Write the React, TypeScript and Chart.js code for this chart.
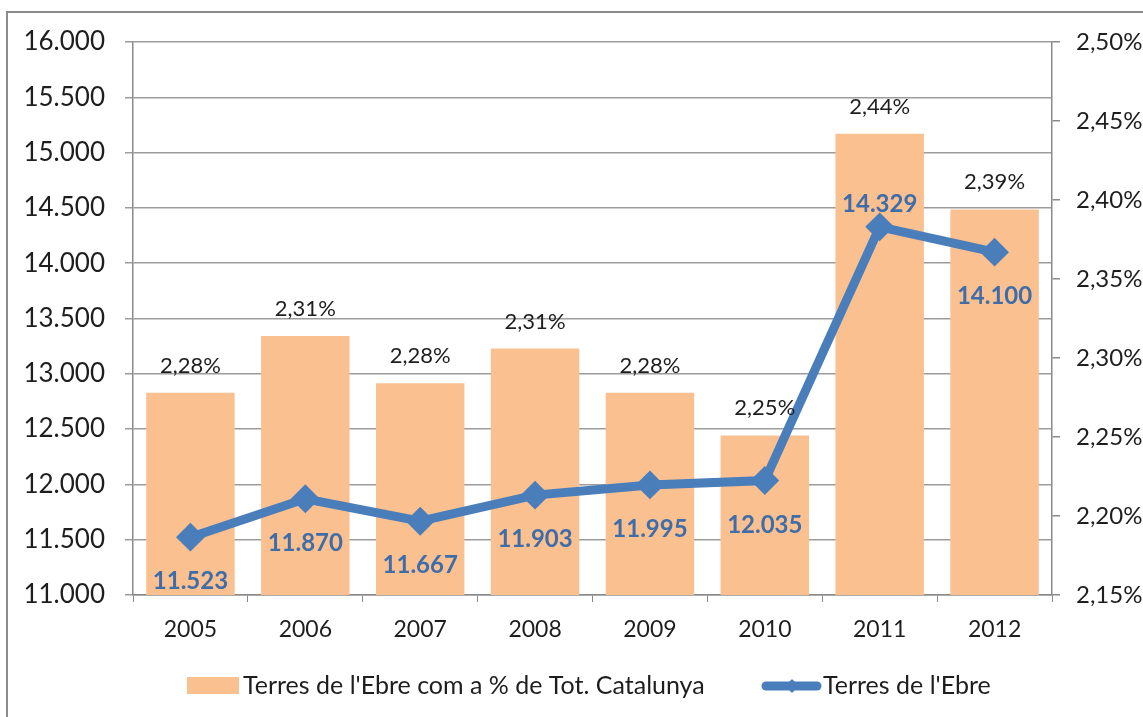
import React, { useEffect, useRef } from 'react';
import { Chart, registerables } from 'chart.js';

Chart.register(...registerables);

// ---- data ----
const years = ['2005', '2006', '2007', '2008', '2009', '2010', '2011', '2012'];
const sharePct = [2.278, 2.314, 2.284, 2.306, 2.278, 2.251, 2.442, 2.394];
const ebreValues = [11523, 11870, 11667, 11903, 11995, 12035, 14329, 14100];
const lineLabelSide = ['below', 'below', 'below', 'below', 'below', 'below', 'above', 'below'];
const barSeriesName = "Terres de l'Ebre com a % de Tot. Catalunya";
const lineSeriesName = "Terres de l'Ebre";
const leftMin = 11000;
const leftMax = 16000;
const leftStep = 500;
const rightMin = 2.15;
const rightMax = 2.5;
const rightStep = 0.05;

// ---- style ----
const FONT = 'Lato, "Open Sans", sans-serif';
const BAR_COLOR = '#FAC090';
const LINE_COLOR = '#4A7EBB';
const LABEL_BLUE = '#3E6DA9';
const TEXT = '#1e1e1e';
const AXIS = '#8a8a8a';
const GRID = '#9c9c9c';

const fmtThousands = (v: number) =>
  Math.round(v).toString().replace(/\B(?=(\d{3})+(?!\d))/g, '.');
const fmtPct = (v: number) => v.toFixed(2).replace('.', ',') + '%';

const labelsPlugin = {
  id: 'valueLabels',
  afterDatasetsDraw(chart: any) {
    const ctx = chart.ctx;
    ctx.save();
    // bar labels
    const barMeta = chart.getDatasetMeta(0);
    ctx.font = `22px ${FONT}`;
    ctx.fillStyle = TEXT;
    ctx.textAlign = 'center';
    ctx.textBaseline = 'alphabetic';
    barMeta.data.forEach((el: any, i: number) => {
      ctx.fillText(fmtPct(sharePct[i]), el.x, el.y - 20);
    });
    // line labels
    const lineMeta = chart.getDatasetMeta(1);
    ctx.font = `bold 24px ${FONT}`;
    ctx.fillStyle = LABEL_BLUE;
    lineMeta.data.forEach((el: any, i: number) => {
      const dy = lineLabelSide[i] === 'above' ? -15 : 52;
      ctx.fillText(fmtThousands(ebreValues[i]), el.x, el.y + dy);
    });
    ctx.restore();
  },
};

const legendPlugin = {
  id: 'customLegend',
  afterDraw(chart: any) {
    const ctx = chart.ctx;
    ctx.save();
    const cy = 686;
    ctx.fillStyle = BAR_COLOR;
    ctx.fillRect(187, 677, 52, 17);
    ctx.font = `25px ${FONT}`;
    ctx.fillStyle = TEXT;
    ctx.textAlign = 'left';
    ctx.textBaseline = 'middle';
    ctx.fillText(barSeriesName, 243, cy);
    // line swatch
    ctx.strokeStyle = LINE_COLOR;
    ctx.lineWidth = 9;
    ctx.lineCap = 'round';
    ctx.beginPath();
    ctx.moveTo(766, cy);
    ctx.lineTo(817, cy);
    ctx.stroke();
    ctx.fillStyle = LINE_COLOR;
    ctx.beginPath();
    ctx.moveTo(792 - 7, cy);
    ctx.lineTo(792, cy - 7);
    ctx.lineTo(792 + 7, cy);
    ctx.lineTo(792, cy + 7);
    ctx.closePath();
    ctx.fill();
    ctx.fillStyle = TEXT;
    ctx.fillText(lineSeriesName, 823, cy);
    ctx.restore();
  },
};

export default function App() {
  const canvasRef = useRef<HTMLCanvasElement | null>(null);

  useEffect(() => {
    if (!canvasRef.current) return;
    const chart = new Chart(canvasRef.current, {
      type: 'bar',
      data: {
        labels: years,
        datasets: [
          {
            type: 'bar',
            label: barSeriesName,
            data: sharePct,
            yAxisID: 'y1',
            backgroundColor: BAR_COLOR,
            borderWidth: 0,
            categoryPercentage: 1,
            barPercentage: 0.77,
            order: 2,
          },
          {
            type: 'line',
            label: lineSeriesName,
            data: ebreValues,
            yAxisID: 'y',
            borderColor: LINE_COLOR,
            backgroundColor: LINE_COLOR,
            borderWidth: 9,
            pointStyle: 'rectRot',
            pointRadius: 13,
            pointBorderWidth: 2,
            pointBackgroundColor: LINE_COLOR,
            pointBorderColor: LINE_COLOR,
            tension: 0,
            order: 1,
          },
        ],
      },
      options: {
        responsive: false,
        animation: false,
        devicePixelRatio: 1,
        layout: { padding: { left: 0, right: 0, top: 42, bottom: 62 } },
        plugins: {
          legend: { display: false },
          tooltip: { enabled: false },
        },
        scales: {
          x: {
            grid: {
              display: true,
              drawOnChartArea: false,
              drawTicks: true,
              tickLength: 7,
              color: AXIS,
              offset: true,
            },
            border: { display: true, color: AXIS, width: 1.5 },
            ticks: {
              color: TEXT,
              font: { family: FONT, size: 23 },
              padding: 14,
              maxRotation: 0,
            },
            afterFit: (s: any) => {
              s.height = 60;
            },
          },
          y: {
            position: 'left',
            min: leftMin,
            max: leftMax,
            grid: {
              color: GRID,
              lineWidth: 1.5,
              drawTicks: true,
              tickLength: 8,
            },
            border: { display: true, color: AXIS, width: 1.5 },
            ticks: {
              stepSize: leftStep,
              color: TEXT,
              font: { family: FONT, size: 26 },
              padding: 20,
              callback: (v: any) => fmtThousands(Number(v)),
            },
            afterFit: (s: any) => {
              s.width = 133;
            },
          },
          y1: {
            position: 'right',
            min: rightMin,
            max: rightMax,
            grid: {
              drawOnChartArea: false,
              drawTicks: true,
              tickLength: 8,
              color: AXIS,
              lineWidth: 1.5,
            },
            border: { display: true, color: AXIS, width: 1.5 },
            ticks: {
              stepSize: rightStep,
              color: TEXT,
              font: { family: FONT, size: 24 },
              padding: 16,
              callback: (v: any) => fmtPct(Number(v)),
            },
            afterFit: (s: any) => {
              s.width = 91;
            },
          },
        },
      },
      plugins: [labelsPlugin, legendPlugin],
    } as any);
    return () => chart.destroy();
  }, []);

  return (
    <div
      style={{
        position: 'fixed',
        left: 0,
        top: 0,
        width: 1143,
        height: 717,
        overflow: 'hidden',
        background: '#ffffff',
      }}
    >
      <div
        style={{
          position: 'absolute',
          left: 6,
          top: 11,
          width: 1300,
          height: 900,
          border: '2px solid #8b8b8b',
        }}
      />
      <canvas
        ref={canvasRef}
        width={1143}
        height={717}
        style={{ position: 'absolute', left: 0, top: 0, width: 1143, height: 717 }}
      />
    </div>
  );
}
